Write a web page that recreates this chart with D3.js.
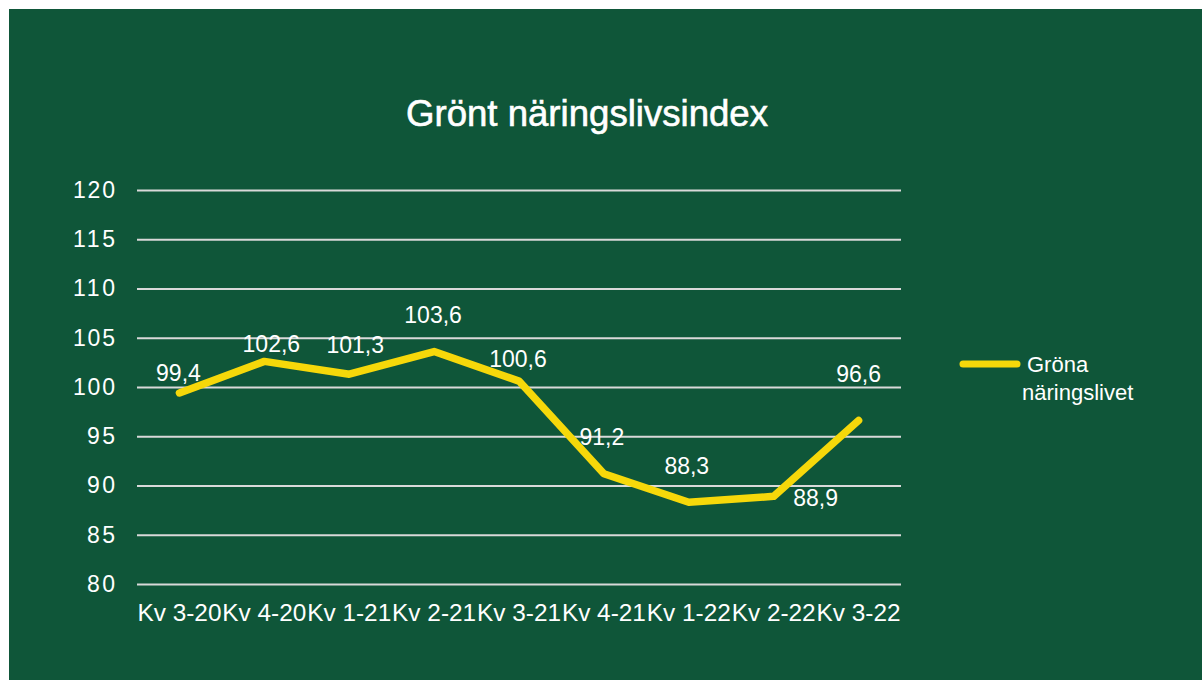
<!DOCTYPE html>
<html><head><meta charset="utf-8">
<script src="https://cdn.jsdelivr.net/npm/d3@7"></script>
<style>html,body{margin:0;padding:0;background:#fff;}svg{display:block;}</style>
</head><body>
<svg id="c" width="1202" height="680"></svg>
<script>
const categories = ["Kv 3-20","Kv 4-20","Kv 1-21","Kv 2-21","Kv 3-21","Kv 4-21","Kv 1-22","Kv 2-22","Kv 3-22"];
const values = [99.4, 102.6, 101.3, 103.6, 100.6, 91.2, 88.3, 88.9, 96.6];
const yTicks = [80, 85, 90, 95, 100, 105, 110, 115, 120];
const seriesName = "Gröna näringslivet";
const title = "Grönt näringslivsindex";
// label offsets (layout, not data)
const labelOffsets = [[-1,-12],[7,-9],[6,-21],[-1,-29],[-1,-14],[-2,-29],[-2,-28],[42,10],[0,-38]];

const font = "'Liberation Sans', Arial, sans-serif";
const svg = d3.select("#c");
svg.append("rect").attr("x",9).attr("y",9).attr("width",1193).attr("height",671).attr("fill","#0f5639");

const x = d3.scaleBand().domain(categories).range([137, 901]);
const y = d3.scaleLinear().domain([80, 120]).range([584, 190]);

svg.append("text").attr("x", 587).attr("y", 126).attr("text-anchor","middle")
  .attr("fill","#fff").attr("stroke","#fff").attr("stroke-width",0.6)
  .attr("font-family",font).attr("font-size",36).attr("textLength",362).attr("lengthAdjust","spacingAndGlyphs").text(title);

const yAxis = svg.append("g").attr("transform","translate(137,0)")
  .call(d3.axisLeft(y).tickValues(yTicks).tickSize(-764).tickPadding(22).tickFormat(d3.format("d")));
yAxis.select(".domain").remove();
yAxis.selectAll(".tick line").attr("stroke","#d9d9d9").attr("stroke-width",2);
yAxis.selectAll(".tick text").attr("fill","#fff").attr("font-family",font).attr("font-size",23)
  .attr("textLength", d => String(d).length * 14).attr("lengthAdjust","spacing");

const xAxis = svg.append("g").attr("transform","translate(0,584)")
  .call(d3.axisBottom(x).tickSize(0).tickPadding(21));
xAxis.select(".domain").remove();
xAxis.selectAll(".tick text").attr("fill","#fff").attr("font-family",font).attr("font-size",23)
  .attr("textLength", 84).attr("lengthAdjust","spacingAndGlyphs");

const cx = d => x(d) + x.bandwidth()/2;
const line = d3.line().x((d,i)=>cx(categories[i])).y(d=>y(d));
svg.append("path").datum(values).attr("d",line).attr("fill","none")
  .attr("stroke","#f6d80a").attr("stroke-width",7.5).attr("stroke-linecap","round").attr("stroke-linejoin","round");

const fmt = v => d3.format(".1f")(v).replace(".",",");
svg.append("g").selectAll("text").data(values).join("text")
  .attr("x",(d,i)=>cx(categories[i]) + labelOffsets[i][0])
  .attr("y",(d,i)=>y(d) + labelOffsets[i][1])
  .attr("text-anchor","middle").attr("fill","#fff").attr("font-family",font).attr("font-size",23)
  .text(d=>fmt(d));

// legend
const lg = svg.append("g");
lg.append("line").attr("x1",963).attr("x2",1017).attr("y1",364).attr("y2",364)
  .attr("stroke","#f6d80a").attr("stroke-width",7).attr("stroke-linecap","round");
const words = seriesName.split(" ");
lg.append("text").attr("x",1027).attr("y",372).attr("fill","#fff").attr("font-family",font).attr("font-size",22).text(words[0]);
lg.append("text").attr("x",1022).attr("y",400).attr("fill","#fff").attr("font-family",font).attr("font-size",22).text(words[1]);
</script>
</body></html>
